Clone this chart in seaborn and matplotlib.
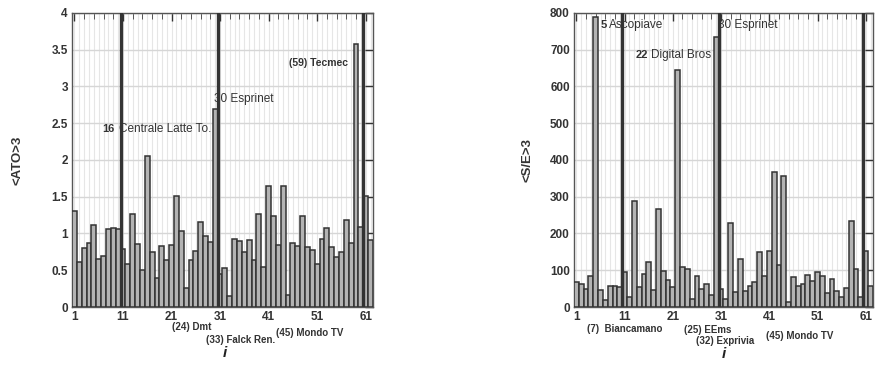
import numpy as np
import matplotlib
matplotlib.use("Agg")
import matplotlib.pyplot as plt
from matplotlib.ticker import MultipleLocator, FixedLocator
import seaborn as sns

# company index 1..62
idx = list(range(1, 63))

ato = [1.31, 0.61, 0.80, 0.87, 1.12, 0.65, 0.70, 1.06, 1.08, 1.06,
       0.79, 0.59, 1.27, 0.86, 0.50, 2.05, 0.75, 0.40, 0.83, 0.64,
       0.84, 1.51, 1.03, 0.26, 0.64, 0.76, 1.15, 0.97, 0.88, 2.70,
       0.45, 0.53, 0.15, 0.92, 0.90, 0.75, 0.91, 0.64, 1.27, 0.54,
       1.65, 1.24, 0.84, 1.65, 0.17, 0.87, 0.83, 1.24, 0.81, 0.77,
       0.59, 0.92, 1.08, 0.81, 0.68, 0.75, 1.19, 0.87, 3.58, 1.09,
       1.51, 0.91]

se = [68, 62, 49, 84, 789, 46, 18, 57, 57, 54,
      96, 27, 289, 54, 89, 123, 46, 267, 98, 73,
      54, 646, 108, 103, 21, 84, 48, 62, 32, 734,
      48, 23, 229, 40, 130, 44, 57, 67, 150, 84,
      152, 368, 114, 357, 13, 81, 57, 62, 87, 71,
      95, 84, 37, 76, 44, 27, 51, 234, 103, 27,
      152, 57]

separators = [10.5, 30.5, 60.5]
xticks = [1, 11, 21, 31, 41, 51, 61]

sns.set_style("white")
plt.rcParams['font.family'] = ['Liberation Sans', 'DejaVu Sans']

fig = plt.figure(figsize=(8.77, 3.65), dpi=100)
ax1 = fig.add_axes([0.0821, 0.1589, 0.3432, 0.8055])
ax2 = fig.add_axes([0.6545, 0.1589, 0.3409, 0.8055])

bar_col = '#b3b3b3'
edge_col = '#333333'
dark = '#333333'


def style_axis(ax, ymax, ystep):
    ax.set_xlim(0.5, 62.5)
    ax.set_ylim(0, ymax)
    ax.xaxis.set_major_locator(FixedLocator(xticks))
    ax.xaxis.set_minor_locator(FixedLocator(list(range(3, 62, 2))))
    ax.yaxis.set_major_locator(MultipleLocator(ystep))
    # light vertical grid at every company
    for g in range(1, 63):
        ax.axvline(g, color='#e6e6e6', linewidth=0.8, zorder=0)
    ax.grid(which='major', axis='y', color='#d6d6d6', linewidth=1.0, zorder=0)
    ax.set_axisbelow(True)
    ax.tick_params(which='both', direction='in', top=True, right=True,
                   labelsize=8.5, pad=3)
    ax.tick_params(which='major', length=6, width=1, color=dark)
    ax.tick_params(which='minor', length=4, width=0.7, color='#555555')
    for s in ax.spines.values():
        s.set_color('#555555')
        s.set_linewidth(1.0)
    for xs in separators:
        ax.axvline(xs, color=dark, linewidth=2.4, zorder=5)
    ax.set_xlabel('')
    ax.set_xticks(xticks)
    ax.set_xticklabels([str(t) for t in xticks], fontweight='bold', color=dark)


def note(ax, x, y, s, bold=False, size=8.5, tr=None):
    kw = {} if tr is None else {'transform': tr}
    ax.text(x, y, s, fontsize=size, fontweight='bold' if bold else 'normal',
            color=dark, va='center', zorder=6, **kw)


sns.barplot(x=idx, y=ato, ax=ax1, native_scale=True, width=1, color=bar_col,
            saturation=1, edgecolor=edge_col, linewidth=1.1, zorder=3)
style_axis(ax1, 4, 0.5)
ax1.set_yticks(np.arange(0, 4.01, 0.5))
ax1.set_yticklabels(['0', '0.5', '1', '1.5', '2', '2.5', '3', '3.5', '4'],
                    fontweight='bold', color=dark)
ax1.set_ylabel('<ATO>3', fontsize=9.5, fontweight='bold', color=dark)
ax1.yaxis.set_label_coords(-0.16, 0.5)

note(ax1, 6.7, 2.42, '16', bold=True, size=8)
note(ax1, 10.2, 2.42, 'Centrale Latte To.', size=8.5)
note(ax1, 29.7, 2.83, '30 Esprinet')
note(ax1, 45.1, 3.32, '(59) Tecmec', bold=True, size=7.5)

tr1 = ax1.get_xaxis_transform()
note(ax1, 21.2, -0.068, '(24) Dmt', bold=True, size=7, tr=tr1)
note(ax1, 28.0, -0.112, '(33) Falck Ren.', bold=True, size=7, tr=tr1)
note(ax1, 42.6, -0.088, '(45) Mondo TV', bold=True, size=7, tr=tr1)
ax1.text(32.0, -0.158, 'i', transform=tr1, fontsize=11, fontweight='bold',
         style='italic', color='#222222', ha='center', va='center')

sns.barplot(x=idx, y=se, ax=ax2, native_scale=True, width=1, color=bar_col,
            saturation=1, edgecolor=edge_col, linewidth=1.1, zorder=3)
style_axis(ax2, 800, 100)
ax2.set_yticks(np.arange(0, 801, 100))
ax2.set_yticklabels([str(v) for v in range(0, 801, 100)], fontweight='bold',
                    color=dark)
ax2.set_ylabel('<S/E>3', fontsize=9.5, fontweight='bold', color=dark)
ax2.yaxis.set_label_coords(-0.135, 0.5)

note(ax2, 6.0, 768, '5', bold=True, size=8)
note(ax2, 7.7, 768, 'Ascopiave')
note(ax2, 13.2, 686, '22', bold=True, size=8)
note(ax2, 16.4, 686, 'Digital Bros')
note(ax2, 30.3, 768, '30 Esprinet')

tr2 = ax2.get_xaxis_transform()
note(ax2, 3.3, -0.075, '(7)  Biancamano', bold=True, size=7, tr=tr2)
note(ax2, 23.4, -0.078, '(25) EEms', bold=True, size=7, tr=tr2)
note(ax2, 25.9, -0.115, '(32) Exprivia', bold=True, size=7, tr=tr2)
note(ax2, 40.4, -0.098, '(45) Mondo TV', bold=True, size=7, tr=tr2)
ax2.text(31.5, -0.16, 'i', transform=tr2, fontsize=11, fontweight='bold',
         style='italic', color='#222222', ha='center', va='center')

fig.savefig('out.png', dpi=100)
